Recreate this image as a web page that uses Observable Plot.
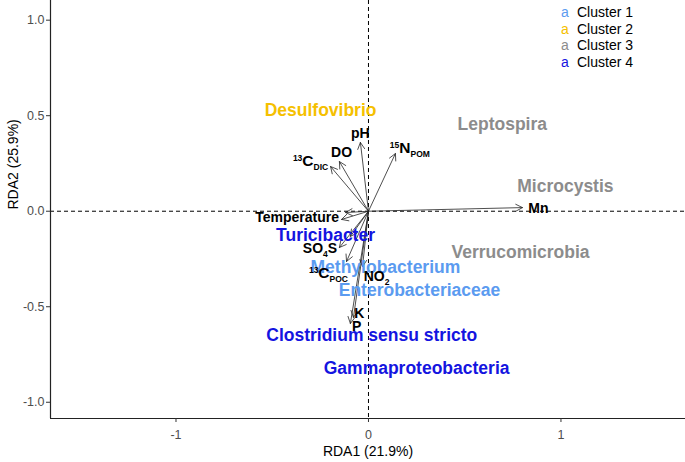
<!DOCTYPE html>
<html><head><meta charset="utf-8">
<script src="https://cdn.jsdelivr.net/npm/d3@7"></script>
<script src="https://cdn.jsdelivr.net/npm/@observablehq/plot@0.6"></script>
<style>
body{margin:0;background:#fff;font-family:"Liberation Sans",Arial,sans-serif}
#wrap{position:relative;width:685px;height:462px}
#legend{position:absolute;left:561px;top:4px;font-size:14px;line-height:16.7px;color:#000}
#legend .k{display:inline-block;width:16px}
</style></head><body><div id="wrap"><div id="legend"></div></div>
<script>
// Legend / clusters
const clusters = ["Cluster 1", "Cluster 2", "Cluster 3", "Cluster 4"];
const clusterColors = ["#5b9bf0", "#f5c000", "#8c8c8c", "#1414e0"];

// Environmental vectors (arrow tips, RDA1/RDA2)
const envNames = ["pH", "DO", "13C_DIC", "15N_POM", "Mn", "Temperature", "extra1", "SO4S", "extra2", "13C_POC", "NO2", "K", "P"];
const envX = [-0.042, -0.151, -0.197, 0.140, 0.800, -0.119, -0.140, -0.151, -0.094, -0.114, -0.031, -0.078, -0.094];
const envY = [0.360, 0.260, 0.234, 0.302, 0.019, -0.007, -0.043, -0.190, -0.132, -0.263, -0.290, -0.556, -0.588];

// Environmental labels and their positions
const labelNames = ["pH", "DO", "13C_DIC", "15N_POM", "Mn", "Temperature", "SO4S", "13C_POC", "NO2", "K", "P"];
const labelX = [-0.042, -0.140, -0.301, 0.215, 0.883, -0.371, -0.252, -0.208, 0.042, -0.047, -0.062];
const labelY = [0.407, 0.307, 0.260, 0.328, 0.014, -0.033, -0.195, -0.326, -0.342, -0.536, -0.604];

// Taxa (species scores) and their clusters
const taxa = ["Desulfovibrio", "Leptospira", "Microcystis", "Verrucomicrobia", "Turicibacter", "Methylobacterium", "Enterobacteriaceae", "Clostridium sensu stricto", "Gammaproteobacteria"];
const taxaX = [-0.249, 0.695, 1.023, 0.790, -0.223, 0.088, 0.265, 0.017, 0.250];
const taxaY = [0.527, 0.454, 0.129, -0.216, -0.127, -0.293, -0.415, -0.651, -0.824];
const taxaCluster = [2, 3, 3, 3, 4, 1, 1, 4, 4];

// Axes
const xTicks = [-1, 0, 1];
const yTicks = [-1, -0.5, 0, 0.5, 1];
const xDomain = [-1.652, 1.647];
const yDomain = [-1.085, 1.103];
const xTitle = "RDA1 (21.9%)";
const yTitle = "RDA2 (25.9%)";

// rich text pieces for labels with sub/superscripts
const rich = {
  "13C_DIC": [["13", "sup"], ["C", ""], ["DIC", "sub"]],
  "15N_POM": [["15", "sup"], ["N", ""], ["POM", "sub"]],
  "13C_POC": [["13", "sup"], ["C", ""], ["POC", "sub"]],
  "SO4S": [["SO", ""], ["4", "sub"], ["S", ""]],
  "NO2": [["NO", ""], ["2", "sub"]]
};

const font = '"Liberation Sans", Arial, sans-serif';
const envIdx = d3.range(envNames.length);
const labIdx = d3.range(labelNames.length);
const taxIdx = d3.range(taxa.length);

const plot = Plot.plot({
  width: 685, height: 462,
  marginLeft: 50, marginRight: 0, marginTop: 0, marginBottom: 44,
  x: {domain: xDomain},
  y: {domain: yDomain},
  style: {fontFamily: font, fontSize: "12px", color: "#333", background: "#fff"},
  marks: [
    Plot.ruleX([0], {stroke: "#000", strokeDasharray: "4,3", strokeWidth: 1}),
    Plot.ruleY([0], {stroke: "#000", strokeDasharray: "4,3", strokeWidth: 1}),
    Plot.ruleX([xDomain[0]], {stroke: "#222", strokeWidth: 1.2}),
    Plot.ruleY([yDomain[0]], {stroke: "#222", strokeWidth: 1.2}),
    Plot.axisX({ticks: xTicks, tickFormat: d => String(d), tickSize: 4, tickPadding: 8, label: null, fontSize: 12.5, fill: "#4d4d4d", stroke: "#333"}),
    Plot.axisY({ticks: yTicks, tickFormat: d => d.toFixed(1), tickSize: 4, tickPadding: 2, label: null, fontSize: 12.5, fill: "#4d4d4d", stroke: "#333"}),
    Plot.arrow(envIdx, {
      x1: () => 0, y1: () => 0, x2: i => envX[i], y2: i => envY[i],
      stroke: "#222", strokeWidth: 0.8, headLength: 14, headAngle: 55
    }),
    Plot.text(taxIdx, {
      x: i => taxaX[i], y: i => taxaY[i], text: i => taxa[i],
      fill: i => clusterColors[taxaCluster[i] - 1],
      fontWeight: "bold", fontSize: 17.5
    }),
    Plot.text(labIdx, {
      x: i => labelX[i], y: i => labelY[i], text: i => labelNames[i],
      fill: "#000", fontWeight: "bold", fontSize: 14
    }),
    Plot.text([xTitle], {frameAnchor: "bottom", dy: 37, fontSize: 14, fill: "#000"}),
    Plot.text([yTitle], {frameAnchor: "left", dx: -37, rotate: -90, fontSize: 14, fill: "#000"})
  ]
});

// apply sub/superscripts
d3.select(plot).selectAll("text").each(function () {
  const t = this.textContent;
  if (rich[t]) {
    const sel = d3.select(this);
    sel.text(null);
    let shift = 0;
    for (const [s, kind] of rich[t]) {
      const target = kind === "sup" ? -5 : kind === "sub" ? 4 : 0;
      const ts = sel.append("tspan").text(s).attr("dy", target - shift);
      if (kind) ts.attr("font-size", 8.5);
      else if (s === "C" || s === "N") ts.attr("font-size", 15.5);
      shift = target;
    }
  }
});

document.getElementById("wrap").prepend(plot);

const legend = d3.select("#legend");
clusters.forEach((c, i) => {
  const row = legend.append("div");
  row.append("span").attr("class", "k").style("color", clusterColors[i]).text("a");
  row.append("span").text(c);
});
</script>
</body></html>
